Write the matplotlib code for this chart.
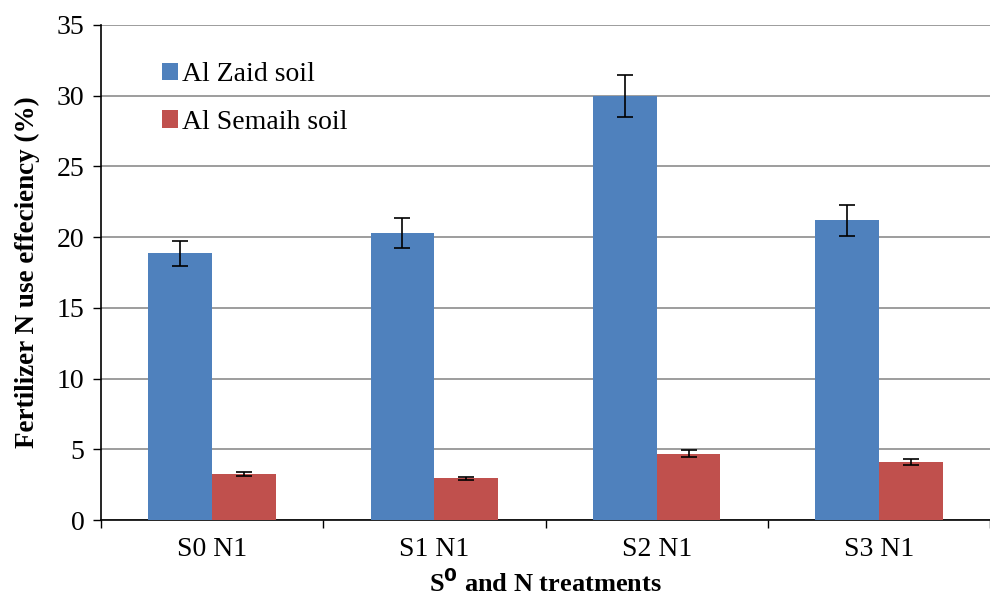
import matplotlib
matplotlib.use("Agg")
import matplotlib.pyplot as plt
from matplotlib.font_manager import FontProperties
import numpy as np

categories = ["S0 N1", "S1 N1", "S2 N1", "S3 N1"]
zaid = [18.85, 20.3, 30.0, 21.2]
zaid_err = [0.9, 1.05, 1.5, 1.1]
semaih = [3.25, 2.95, 4.7, 4.1]
semaih_err = [0.12, 0.12, 0.25, 0.2]
series_names = ["Al Zaid soil", "Al Semaih soil"]

plt.rcParams['font.family'] = ['Liberation Serif', 'DejaVu Serif']

fig = plt.figure(figsize=(9.9, 6.02), dpi=100)
ax = fig.add_axes([101/990, 1-520/602, 889/990, 495/602])

x = np.arange(len(categories))
w = 0.287
ax.bar(x - w/2, zaid, w, color="#4F81BD", label=series_names[0], zorder=3)
ax.bar(x + w/2, semaih, w, color="#C0504D", label=series_names[1], zorder=3)
ax.errorbar(x - w/2, zaid, yerr=zaid_err, fmt='none', ecolor='black', elinewidth=1.2, capsize=6, capthick=1.2, zorder=4)
ax.errorbar(x + w/2, semaih, yerr=semaih_err, fmt='none', ecolor='black', elinewidth=1.2, capsize=6, capthick=1.2, zorder=4)

ax.set_ylim(0, 35)
ax.set_yticks(range(0, 36, 5))
ax.set_xlim(-0.5, -0.5 + 889/224.5)
ax.set_xticks(x)
ax.set_xticklabels(categories)
ax.set_xticks(np.arange(-0.5, 4, 1), minor=True)
ax.tick_params(axis='x', which='major', length=0, pad=12, labelsize=20)
ax.tick_params(axis='x', which='minor', length=6, direction='out', width=1)
ax.tick_params(axis='y', length=6, direction='out', width=1, labelsize=20, pad=6)

ax.yaxis.grid(True, color="#8c8c8c", linewidth=1.2, zorder=0)
ax.set_axisbelow(True)
for s in ['top', 'right']:
    ax.spines[s].set_visible(False)
ax.spines['left'].set_linewidth(1.2)
ax.spines['bottom'].set_linewidth(1.2)

ax.set_ylabel("Fertilizer N use effeciency (%)", fontsize=19.5, fontweight='bold', labelpad=12)
ax.set_xlabel("S$^\\mathbf{0}$ and N treatments", fontsize=19, fontweight='bold', labelpad=5)

prop = FontProperties(family='Liberation Serif', size=20)
leg = ax.legend(loc='upper left', bbox_to_anchor=(0.04, 0.975), frameon=False, prop=prop,
                handlelength=0.6, handleheight=0.6, handletextpad=0.15, labelspacing=0.8)

fig.savefig("out.png", dpi=100)
